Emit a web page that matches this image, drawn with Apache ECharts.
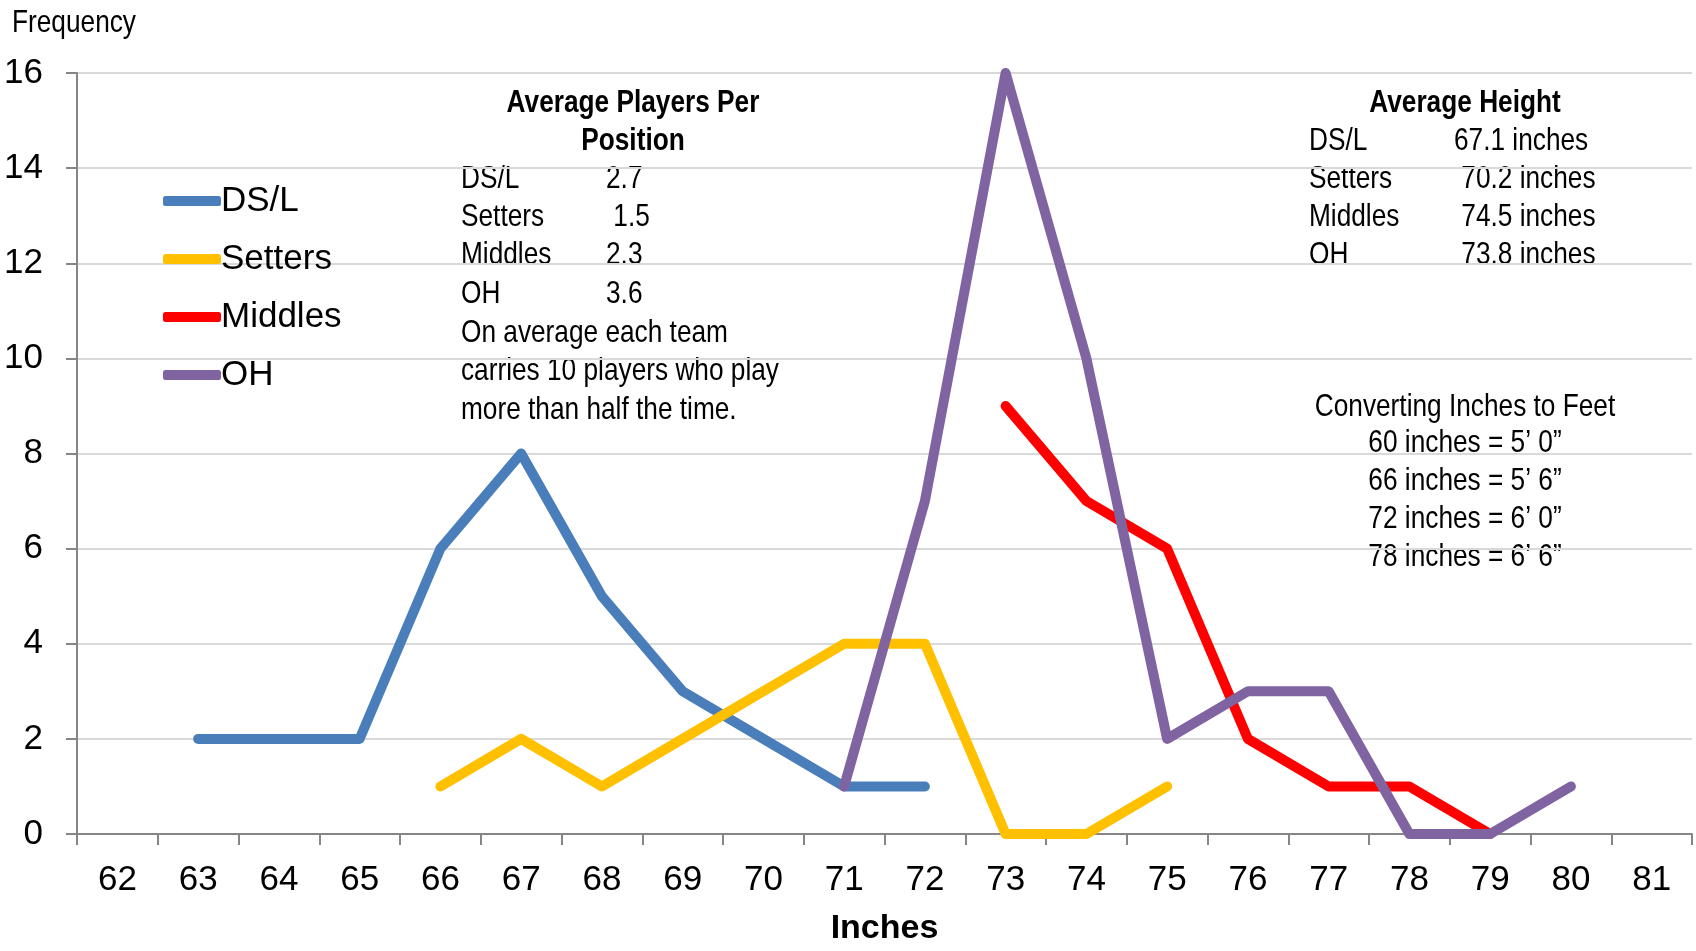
<!DOCTYPE html>
<html>
<head>
<meta charset="utf-8">
<script src="https://cdn.jsdelivr.net/npm/echarts@6/dist/echarts.min.js"></script>
<style>
html,body{margin:0;padding:0;background:#fff;}
#chart{width:1696px;height:951px;}
</style>
</head>
<body>
<div id="chart"></div>
<script>
const categories = ['62','63','64','65','66','67','68','69','70','71','72','73','74','75','76','77','78','79','80','81'];
const dsl     = [null,2,2,2,6,8,5,3,2,1,1,null,null,null,null,null,null,null,null,null];
const setters = [null,null,null,null,1,2,1,2,3,4,4,0,0,1,null,null,null,null,null,null];
const middles = [null,null,null,null,null,null,null,null,null,null,null,9,7,6,2,1,1,0,null,null];
const oh      = [null,null,null,null,null,null,null,null,null,1,7,16,10,2,3,3,0,0,1,null];
const seriesNames = ['DS/L','Setters','Middles','OH'];
const yMin = 0, yMax = 16, yInterval = 2;

const playersTitle = ['Average Players Per','Position'];
const playersRows = [['DS/L','2.7'],['Setters',' 1.5'],['Middles','2.3'],['OH','3.6']];
const playersNote = ['On average each team','carries 10 players who play','more than half the time.'];
const heightTitle = 'Average Height';
const heightRows = [['DS/L','67.1 inches'],['Setters',' 70.2 inches'],['Middles',' 74.5 inches'],['OH',' 73.8 inches']];
const convTitle = 'Converting Inches to Feet';
const convRows = ['60 inches = 5\u2019 0\u201D','66 inches = 5\u2019 6\u201D','72 inches = 6\u2019 0\u201D','78 inches = 6\u2019 6\u201D'];

const FONT = "'Liberation Sans Narrow','Arial Narrow','Liberation Sans',Arial,sans-serif";
const colors = ['#4A7EBB','#FFC000','#FF0000','#8064A2'];
const TXT = 32;
const SX = 0.82;

const chart = echarts.init(document.getElementById('chart'), null, {renderer:'canvas'});

function txt(x, y, s, opt) {
  return {
    type:'text', x:x, y:y, scaleX:SX, scaleY:1,
    style: Object.assign({text:s, x:0, y:0, fontFamily:FONT, fontSize:TXT, fill:'#000', verticalAlign:'middle', align:'left'}, opt||{})
  };
}
const graphics = [];
graphics.push(txt(12, 23, 'Frequency', {fontSize:32}));
// players block
graphics.push(txt(633, 103, playersTitle[0], {fontWeight:'bold', align:'center'}));
graphics.push(txt(633, 141, playersTitle[1], {fontWeight:'bold', align:'center'}));
const pRowY = [179,217,255,294];
playersRows.forEach((r,i)=>{ graphics.push(txt(461, pRowY[i], r[0])); graphics.push(txt(606, pRowY[i], r[1])); });
const pNoteY = [333,371,410];
playersNote.forEach((s,i)=>graphics.push(txt(461, pNoteY[i], s)));
// height block
graphics.push(txt(1465, 103, heightTitle, {fontWeight:'bold', align:'center'}));
const hRowY = [141,179,217,255];
heightRows.forEach((r,i)=>{ graphics.push(txt(1309, hRowY[i], r[0])); graphics.push(txt(1454, hRowY[i], r[1])); });
graphics.push(txt(1465, 407, convTitle, {align:'center'}));
const cY = [443,481,519,557];
convRows.forEach((s,i)=>graphics.push(txt(1465, cY[i], s, {align:'center'})));

function mk(name, data, color) {
  return {
    name:name, type:'line', data:data, symbol:'none', smooth:false,
    lineStyle:{width:10, color:color, cap:'round', join:'round'},
    itemStyle:{color:color}, z:3
  };
}

chart.setOption({
  animation:false,
  backgroundColor:'#fff',
  textStyle:{fontFamily:FONT},
  grid:{left:77, right:4, top:73, bottom:111, containLabel:false},
  legend:{
    orient:'vertical', left:158, top:178, itemGap:22,
    itemWidth:58, itemHeight:10, icon:'roundRect',
    textStyle:{fontFamily:FONT, fontSize:35, color:'#000', padding:[0,0,0,-5], lineHeight:36},
    data:seriesNames
  },
  xAxis:{
    type:'category', data:categories, boundaryGap:true,
    axisLine:{lineStyle:{color:'#868686', width:2}},
    axisTick:{show:true, length:11, alignWithLabel:false, lineStyle:{color:'#868686', width:2}},
    axisLabel:{fontFamily:FONT, fontSize:35, color:'#000', margin:29, interval:0},
    name:'Inches', nameLocation:'middle', nameGap:78,
    nameTextStyle:{fontFamily:FONT, fontSize:34, fontWeight:'bold', color:'#000'},
    splitLine:{show:false}
  },
  yAxis:{
    type:'value', min:yMin, max:yMax, interval:yInterval,
    axisLine:{show:true, lineStyle:{color:'#868686', width:2}},
    axisTick:{show:true, length:11, inside:false, lineStyle:{color:'#868686', width:2}},
    axisLabel:{fontFamily:FONT, fontSize:35, color:'#000', margin:34},
    splitLine:{show:true, lineStyle:{color:'#D9D9D9', width:2}}
  },
  series:[mk(seriesNames[0], dsl, colors[0]), mk(seriesNames[1], setters, colors[1]), mk(seriesNames[2], middles, colors[2]), mk(seriesNames[3], oh, colors[3])],
  graphic: graphics
});
</script>
</body>
</html>
